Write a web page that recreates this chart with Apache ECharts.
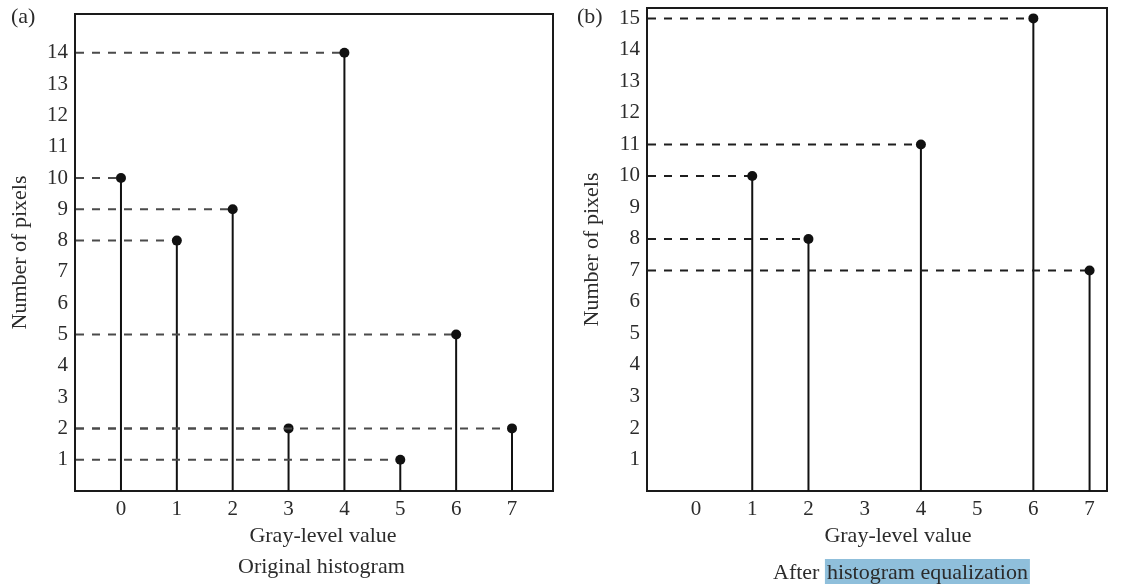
<!DOCTYPE html>
<html>
<head>
<meta charset="utf-8">
<script src="https://cdn.jsdelivr.net/npm/echarts@6/dist/echarts.min.js"></script>
<style>
html,body{margin:0;padding:0;background:#fff;}
#chart{width:1124px;height:584px;}
</style>
</head>
<body>
<div id="chart"></div>
<script>
// ---- data ----
const grayLevels = [0, 1, 2, 3, 4, 5, 6, 7];
const originalCounts = [10, 8, 9, 2, 14, 1, 5, 2];
const equalizedCounts = [0, 10, 8, 0, 11, 0, 15, 7];
const yTicksA = [1, 2, 3, 4, 5, 6, 7, 8, 9, 10, 11, 12, 13, 14];
const yTicksB = [1, 2, 3, 4, 5, 6, 7, 8, 9, 10, 11, 12, 13, 14, 15];
const xAxisName = 'Gray-level value';
const yAxisName = 'Number of pixels';
const captionA = 'Original histogram';
const captionB1 = 'After ';
const captionB2 = 'histogram equalization';

const FONT = 'Liberation Serif';
const TXT = '#2b2b2b';

function stemRender(dashColor) {
  return function (params, api) {
    const x = api.value(0), v = api.value(1);
    if (!v) return null;
    const p = api.coord([x, v]);
    const base = api.coord([x, 0]);
    const cs = params.coordSys;
    return {
      type: 'group',
      children: [
        { type: 'line', shape: { x1: cs.x + 1, y1: p[1], x2: p[0], y2: p[1] },
          style: { stroke: dashColor, lineWidth: 2, lineDash: [8, 8] } },
        { type: 'line', shape: { x1: p[0], y1: p[1], x2: p[0], y2: base[1] },
          style: { stroke: '#111', lineWidth: 2 } },
        { type: 'circle', shape: { cx: p[0], cy: p[1], r: 5 },
          style: { fill: '#111' } }
      ]
    };
  };
}

function yAxisCfg(idx, max, ticks) {
  return {
    type: 'value', gridIndex: idx, min: 0, max: max, interval: 1,
    name: yAxisName, nameLocation: 'middle', nameGap: 44, nameRotate: 90,
    nameTextStyle: { fontFamily: FONT, fontSize: 22, color: TXT },
    axisLine: { show: false }, axisTick: { show: false }, splitLine: { show: false },
    axisLabel: {
      fontFamily: FONT, fontSize: 21, color: TXT, margin: 7,
      formatter: function (val) { return ticks.indexOf(val) >= 0 ? String(val) : ''; }
    }
  };
}

function xAxisCfg(idx, min, max, namePad) {
  return {
    type: 'value', gridIndex: idx, min: min, max: max,
    name: xAxisName, nameLocation: 'middle', nameGap: 30,
    nameTextStyle: { fontFamily: FONT, fontSize: 22, color: TXT, padding: namePad },
    axisLine: { show: false }, axisTick: { show: false }, splitLine: { show: false },
    axisLabel: {
      customValues: grayLevels,
      fontFamily: FONT, fontSize: 21, color: TXT, margin: 8,
      formatter: function (val) { return String(val); }
    }
  };
}

const chart = echarts.init(document.getElementById('chart'), null, { renderer: 'canvas' });
chart.setOption({
  animation: false,
  backgroundColor: '#fff',
  grid: [
    { left: 75, top: 14, right: 571, bottom: 93, show: true, borderColor: '#1a1a1a', borderWidth: 2, backgroundColor: 'transparent' },
    { left: 647, top: 8, right: 17, bottom: 93, show: true, borderColor: '#1a1a1a', borderWidth: 2, backgroundColor: 'transparent' }
  ],
  xAxis: [
    xAxisCfg(0, -0.823, 7.734, [0, 0, 0, 18]),
    xAxisCfg(1, -0.872, 7.31, [0, 0, 0, 42])
  ],
  yAxis: [
    yAxisCfg(0, 15.24, yTicksA),
    yAxisCfg(1, 15.33, yTicksB)
  ],
  title: [
    { text: captionA, left: 233, top: 551,
      textStyle: { fontFamily: FONT, fontSize: 22, fontWeight: 'normal', color: TXT } },
    { text: captionB1 + '{hl|' + captionB2 + '}', left: 768, top: 554,
      textStyle: { fontFamily: FONT, fontSize: 22, fontWeight: 'normal', color: TXT,
        rich: { hl: { fontFamily: FONT, fontSize: 22, color: TXT, backgroundColor: '#8fbfdb', padding: [3, 2, 3, 2] } } } }
  ],
  graphic: [
    { type: 'text', left: 11, top: 6, style: { text: '(a)', font: '22px "Liberation Serif"', fill: TXT } },
    { type: 'text', left: 577, top: 6, style: { text: '(b)', font: '22px "Liberation Serif"', fill: TXT } }
  ],
  series: [
    { type: 'custom', xAxisIndex: 0, yAxisIndex: 0, renderItem: stemRender('#4a4a4a'),
      data: grayLevels.map(function (g, i) { return [g, originalCounts[i]]; }) },
    { type: 'custom', xAxisIndex: 1, yAxisIndex: 1, renderItem: stemRender('#1e1e1e'),
      data: grayLevels.map(function (g, i) { return [g, equalizedCounts[i]]; }) }
  ]
});
</script>
</body>
</html>
